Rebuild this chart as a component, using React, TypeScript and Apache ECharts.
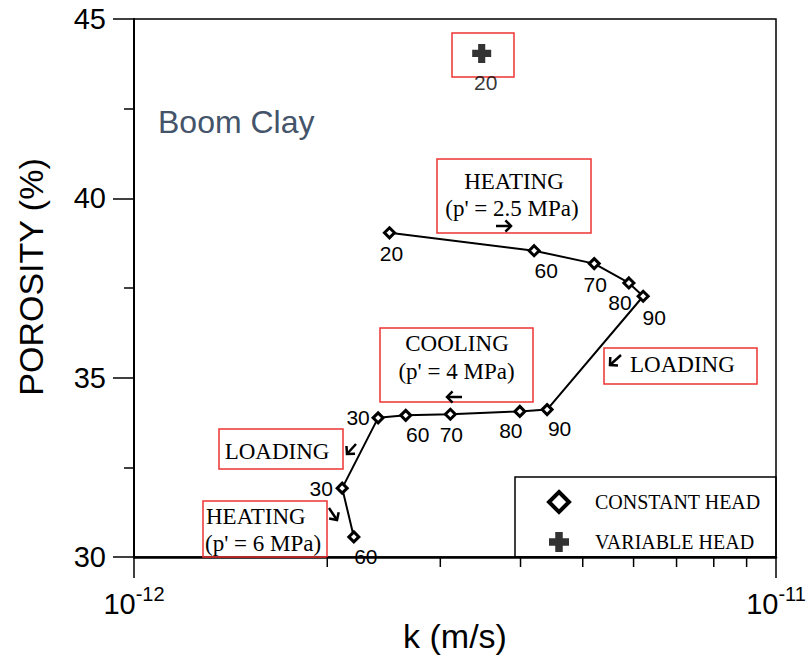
import React, { useEffect, useRef } from 'react';
import * as echarts from 'echarts';

// ---- data ----
const constantK = [2.5e-12, 4.2e-12, 5.21e-12, 5.9e-12, 6.21e-12, 4.4e-12, 3.99e-12, 3.11e-12, 2.65e-12, 2.4e-12, 2.11e-12, 2.2e-12];
const constantPorosity = [39.04, 38.54, 38.18, 37.64, 37.27, 34.11, 34.06, 33.98, 33.95, 33.88, 31.92, 30.56];
const constantTemp = [20, 60, 70, 80, 90, 90, 80, 70, 60, 30, 30, 60];
const variableK = [3.48e-12];
const variablePorosity = [44.04];
const variableTemp = [20];
const xMin = 1e-12;
const xMax = 1e-11;
const xMinorTicks = [2e-12, 3e-12, 4e-12, 5e-12, 6e-12, 7e-12, 8e-12, 9e-12];
const yMin = 30;
const yMax = 45;
const yInterval = 5;

// ---- styling (label placement relative to each point) ----
const constantLabelOffsets = [
  [2, 21], [12, 20], [1, 21], [-9, 20], [11, 21],
  [12.5, 19], [-9, 19], [1, 20.5], [12, 19.5], [-20, 0],
  [-21, 0], [12, 20],
];
const variableLabelOffsets = [[4, 29]];

const SANS = '"Liberation Sans", Arial, Helvetica, sans-serif';
const SERIF = '"Liberation Serif", "Times New Roman", serif';
const RED = '#ee3333';
const PLUS = 'path://M5,0H11V5H16V11H11V16H5V11H0V5H5Z';

const box = (x: number, y: number, w: number, h: number, stroke = RED) => ({
  type: 'rect',
  shape: { x, y, width: w, height: h },
  style: { fill: 'none', stroke, lineWidth: 1.5 },
  z: 1,
});

const txt = (text: string, x: number, y: number, align = 'center', size = 23, family = SERIF, color = '#000') => ({
  type: 'text',
  x,
  y,
  style: {
    text,
    fill: color,
    fontSize: size,
    fontFamily: family,
    align,
    textAlign: align,
    verticalAlign: 'middle',
    textVerticalAlign: 'middle',
  },
  z: 3,
});

const arrow = (x1: number, y1: number, x2: number, y2: number) => {
  const a = Math.atan2(y2 - y1, x2 - x1);
  const h = 8;
  const s = 0.8;
  const p1 = [x2 - h * Math.cos(a - s), y2 - h * Math.sin(a - s)];
  const p2 = [x2 - h * Math.cos(a + s), y2 - h * Math.sin(a + s)];
  return [
    { type: 'line', shape: { x1, y1, x2, y2 }, style: { stroke: '#000', lineWidth: 2.5 }, z: 3 },
    { type: 'polyline', shape: { points: [p1, [x2, y2], p2] }, style: { stroke: '#000', lineWidth: 2.5, fill: 'none' }, z: 3 },
  ];
};

export default function App() {
  const ref = useRef<HTMLDivElement>(null);

  useEffect(() => {
    if (!ref.current) return;
    const chart = echarts.init(ref.current, null, { renderer: 'svg' });

    const labelBase = {
      show: true,
      position: 'inside',
      color: '#000',
      fontSize: 21,
      fontFamily: SANS,
      textBorderWidth: 0,
    };

    const constantData = constantK.map((k, i) => ({
      value: [k, constantPorosity[i]],
      label: { ...labelBase, formatter: String(constantTemp[i]), offset: constantLabelOffsets[i] },
    }));
    const variableData = variableK.map((k, i) => ({
      value: [k, variablePorosity[i]],
      label: { ...labelBase, formatter: String(variableTemp[i]), offset: variableLabelOffsets[i] },
    }));

    const graphic: any[] = [
      txt('Boom Clay', 158, 121.5, 'left', 32, SANS, '#44546A'),
      // variable head box
      box(452, 33, 62, 44),
      // heating p'=2.5
      box(437, 159, 154, 74),
      txt('HEATING', 514, 181),
      txt("(p' = 2.5 MPa)", 512, 208),
      ...arrow(496, 226, 511, 226),
      // cooling p'=4
      box(380, 328, 153, 74),
      txt('COOLING', 457, 343),
      txt("(p' = 4 MPa)", 456.5, 371),
      ...arrow(462, 397, 447, 397),
      // loading right
      box(604, 348, 153, 36),
      txt('LOADING', 630, 364, 'left'),
      ...arrow(621, 355, 610, 365),
      // loading left
      box(219, 429, 124, 40),
      txt('LOADING', 277, 451),
      ...arrow(356, 444, 347, 454),
      // heating p'=6
      box(203, 501, 124, 56),
      txt('HEATING', 206, 516, 'left'),
      txt("(p' = 6 MPa)", 205, 543, 'left'),
      ...arrow(329, 508, 337, 520),
      // legend frame
      box(515, 477, 261, 80, '#000'),
    ];

    chart.setOption({
      animation: false,
      backgroundColor: '#fff',
      grid: {
        left: 134,
        right: 33,
        top: 19,
        bottom: 103,
        show: true,
        borderColor: '#000',
        borderWidth: 1.5,
        backgroundColor: 'transparent',
      },
      xAxis: {
        type: 'log',
        logBase: 10,
        min: xMin,
        max: xMax,
        name: 'k (m/s)',
        nameLocation: 'middle',
        nameGap: 62,
        nameMoveOverlap: false,
        nameTextStyle: { fontSize: 34, fontFamily: SANS, color: '#000' },
        axisLine: { show: true, lineStyle: { color: '#000', width: 2.5 } },
        axisTick: { show: true, inside: false, length: 21, lineStyle: { color: '#000', width: 1.5 } },
        splitLine: { show: false },
        minorTick: { show: false },
        axisLabel: {
          show: true,
          margin: 27,
          showMinLabel: true,
          showMaxLabel: true,
          formatter: (v: number) => `{b|10}{s|${Math.round(Math.log10(v))}}`,
          rich: {
            b: { fontSize: 29, fontFamily: SANS, color: '#000', lineHeight: 40 },
            s: { fontSize: 20, fontFamily: SANS, color: '#000', lineHeight: 20, verticalAlign: 'top' },
          },
        },
      },
      yAxis: {
        type: 'value',
        min: yMin,
        max: yMax,
        interval: yInterval,
        name: 'POROSITY (%)',
        nameLocation: 'middle',
        nameGap: 86,
        nameRotate: 90,
        nameMoveOverlap: false,
        nameTextStyle: { fontSize: 34, fontFamily: SANS, color: '#000', padding: [0, 0, 0, 22] },
        axisLine: { show: true, lineStyle: { color: '#000', width: 2 } },
        axisTick: { show: true, inside: false, length: 21, lineStyle: { color: '#000', width: 1.5 } },
        minorTick: { show: true, splitNumber: 2, length: 10, lineStyle: { color: '#000', width: 1.5 } },
        splitLine: { show: false },
        minorSplitLine: { show: false },
        axisLabel: { margin: 28, fontSize: 29, fontFamily: SANS, color: '#000' },
      },
      legend: {
        orient: 'vertical',
        left: 542,
        top: 485,
        padding: 5,
        itemWidth: 20,
        itemHeight: 20,
        itemGap: 18,
        selectedMode: false,
        textStyle: { fontFamily: SERIF, fontSize: 20, color: '#000', lineHeight: 20, padding: [0, 0, 0, 21] },
        data: [
          { name: 'CONSTANT HEAD', icon: 'diamond', itemStyle: { color: '#fff', borderColor: '#000', borderWidth: 4 } },
          { name: 'VARIABLE HEAD', icon: PLUS, itemStyle: { color: '#000', borderWidth: 0 } },
        ],
      },
      graphic,
      series: [
        {
          name: 'CONSTANT HEAD',
          type: 'line',
          data: constantData,
          symbol: 'diamond',
          symbolSize: 10,
          showAllSymbol: true,
          lineStyle: { color: '#000', width: 2 },
          itemStyle: { color: '#fff', borderColor: '#000', borderWidth: 3 },
          z: 4,
        },
        {
          name: 'VARIABLE HEAD',
          type: 'scatter',
          data: variableData,
          symbol: PLUS,
          symbolSize: 19,
          itemStyle: { color: '#000' },
          z: 4,
        },
        {
          name: 'minor-x-ticks',
          type: 'custom',
          silent: true,
          clip: false,
          data: xMinorTicks.map((v) => [v, yMin]),
          renderItem: (_params: any, api: any) => {
            const p = api.coord([api.value(0), api.value(1)]);
            return {
              type: 'line',
              shape: { x1: p[0], y1: p[1], x2: p[0], y2: p[1] + 10 },
              style: { stroke: '#000', lineWidth: 1.5 },
            };
          },
          z: 2,
        },
      ],
    });

    return () => chart.dispose();
  }, []);

  return <div ref={ref} style={{ position: 'fixed', left: 0, top: 0, width: 809, height: 660 }} />;
}
